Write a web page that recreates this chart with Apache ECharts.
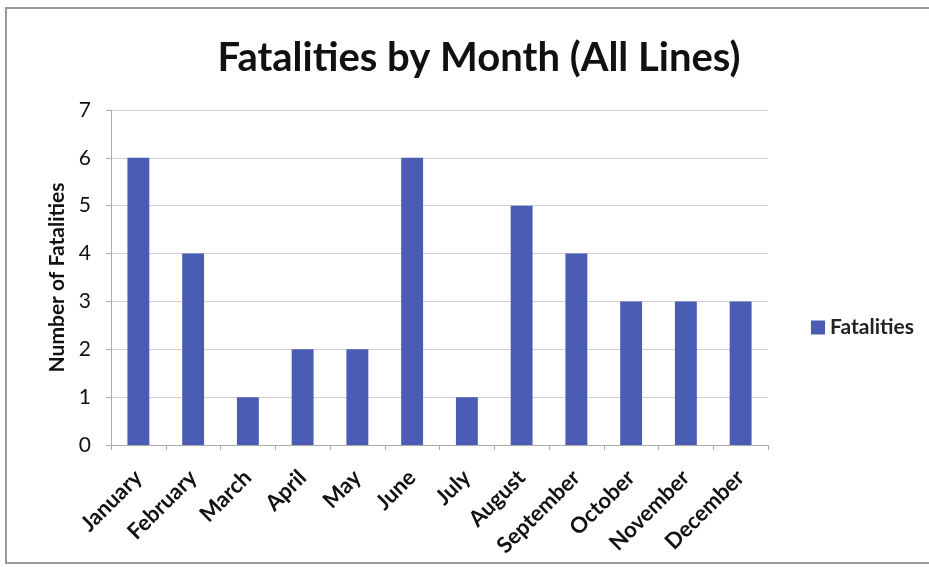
<!DOCTYPE html>
<html>
<head>
<meta charset="utf-8">
<script src="https://cdn.jsdelivr.net/npm/echarts@6/dist/echarts.min.js"></script>
<style>
  html, body { margin: 0; padding: 0; background: #fff; }
  #chart { width: 929px; height: 567px; }
</style>
</head>
<body>
<div id="chart"></div>
<script>
// Monthly fatality counts
const months = ['January', 'February', 'March', 'April', 'May', 'June',
                'July', 'August', 'September', 'October', 'November', 'December'];
const fatalities = [6, 4, 1, 2, 2, 6, 1, 5, 4, 3, 3, 3];
const yTicks = [0, 1, 2, 3, 4, 5, 6, 7];

const chart = echarts.init(document.getElementById('chart'));
const font = 'Lato, "Open Sans", sans-serif';

chart.setOption({
  backgroundColor: '#fff',
  animation: false,
  title: {
    text: 'Fatalities by Month (All Lines)',
    left: 474, top: 33, textAlign: 'center',
    textStyle: { fontFamily: font, fontSize: 40, fontWeight: 'bold', color: '#111' }
  },
  legend: {
    data: ['Fatalities'],
    left: 806, top: 312,
    itemWidth: 14, itemHeight: 14, itemGap: 7,
    icon: 'rect',
    textStyle: { fontFamily: font, fontSize: 21, color: '#222', fontWeight: 'bold' }
  },
  grid: { left: 111, right: 161, top: 110, bottom: 122 },
  xAxis: {
    type: 'category',
    data: months,
    axisLine: { lineStyle: { color: '#aaa', width: 1 } },
    axisTick: { show: true, length: 5, lineStyle: { color: '#aaa' } },
    axisLabel: {
      rotate: 45, interval: 0, margin: 29,
      fontFamily: font, fontSize: 22, fontWeight: 'bold', color: '#111'
    }
  },
  yAxis: {
    type: 'value',
    min: 0, max: 7, interval: 1,
    name: 'Number of Fatalities',
    nameLocation: 'middle', nameGap: 41, nameRotate: 90,
    nameTextStyle: { fontFamily: font, fontSize: 21, fontWeight: 'bold', color: '#111' },
    axisLine: { show: true, lineStyle: { color: '#aaa' } },
    axisTick: { show: true, length: 5, lineStyle: { color: '#aaa' } },
    splitLine: { lineStyle: { color: '#d0d0d0', width: 1 } },
    axisLabel: {
      margin: 20, fontFamily: font, fontSize: 21, color: '#111',
      formatter: v => (yTicks.includes(v) ? String(v) : '')
    }
  },
  series: [{
    name: 'Fatalities',
    type: 'bar',
    data: fatalities,
    barWidth: '40%',
    itemStyle: { color: '#4B5CB4' }
  }],
  graphic: [{
    type: 'rect',
    shape: { x: 6, y: 8, width: 940, height: 555 },
    style: { fill: 'none', stroke: '#999', lineWidth: 2 }
  }]
});
</script>
</body>
</html>
